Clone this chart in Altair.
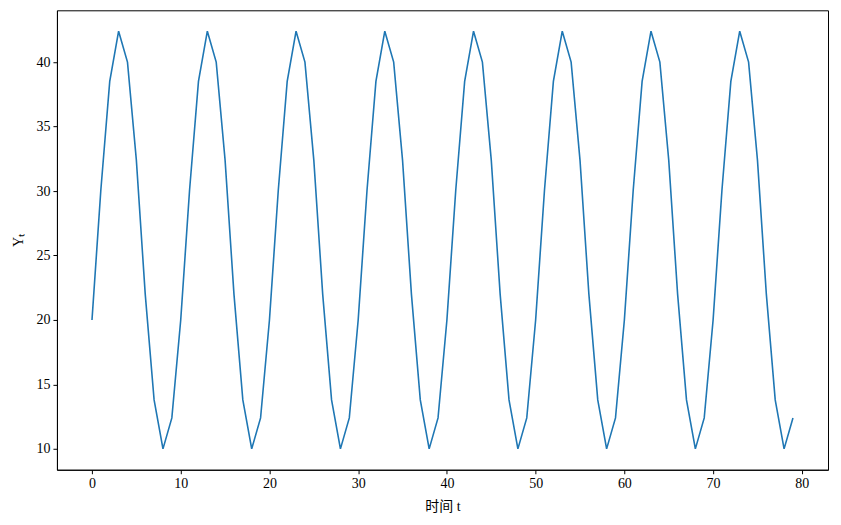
import altair as alt
import pandas as pd

t_values = list(range(80))
y_values = [
    20.0, 30.1, 38.5, 42.4, 40.0, 32.4, 22.0, 13.8, 10.0, 12.4,
    20.0, 30.1, 38.5, 42.4, 40.0, 32.4, 22.0, 13.8, 10.0, 12.4,
    20.0, 30.1, 38.5, 42.4, 40.0, 32.4, 22.0, 13.8, 10.0, 12.4,
    20.0, 30.1, 38.5, 42.4, 40.0, 32.4, 22.0, 13.8, 10.0, 12.4,
    20.0, 30.1, 38.5, 42.4, 40.0, 32.4, 22.0, 13.8, 10.0, 12.4,
    20.0, 30.1, 38.5, 42.4, 40.0, 32.4, 22.0, 13.8, 10.0, 12.4,
    20.0, 30.1, 38.5, 42.4, 40.0, 32.4, 22.0, 13.8, 10.0, 12.4,
    20.0, 30.1, 38.5, 42.4, 40.0, 32.4, 22.0, 13.8, 10.0, 12.4,
]
x_ticks = [0, 10, 20, 30, 40, 50, 60, 70, 80]
y_ticks = [10, 15, 20, 25, 30, 35, 40]

df = pd.DataFrame({"t": t_values, "y": y_values})

font = "Liberation Serif, Noto Sans CJK SC"

chart = alt.Chart(df).mark_line(color="#1f77b4", strokeWidth=1.6, clip=True).encode(
    x=alt.X("t:Q", scale=alt.Scale(domain=[-3.95, 82.95], nice=False, zero=False),
            axis=alt.Axis(values=x_ticks, title="时间 t", grid=False, titlePadding=9)),
    y=alt.Y("y:Q", scale=alt.Scale(domain=[8.38, 44.02], nice=False, zero=False),
            axis=alt.Axis(values=y_ticks, title="Yₜ", grid=False, titlePadding=10)),
).properties(
    width=772, height=460,
    padding={"left": 4, "top": 2, "right": 5, "bottom": 5},
).configure_view(
    stroke="black", strokeWidth=1
).configure_axis(
    domainColor="black", tickColor="black", tickSize=4, labelFont=font, titleFont=font,
    labelFontSize=14, titleFontSize=14, labelColor="black", titleColor="black",
    titleFontWeight="normal", labelPadding=3, domainWidth=1
)

chart.save("out.html", embed_options={"renderer": "svg", "actions": False})
